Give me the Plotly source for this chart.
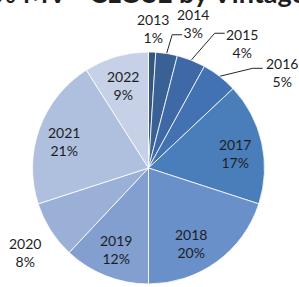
import math
import plotly.graph_objects as go

# ---- data ----
vintages = ["2013", "2014", "2015", "2016", "2017", "2018", "2019", "2020", "2021", "2022"]
shares = [1, 3, 4, 5, 17, 20, 12, 8, 21, 9]
title_text = "% MV - CLOSE by Vintage"

# ---- style ----
W, H = 299, 287
colors = ["#35567f", "#3a6196", "#3e69a6", "#4372b2", "#4a7ebb",
          "#6990c9", "#829fd0", "#9bb0d7", "#afc0df", "#c6d1e7"]
CX, CY, R = 148.5, 168.0, 116.0
# label placement: radius in px from centre, angular shift (deg) from slice middle
label_r = [140, 151, 156, 164, 88, 87, 88, 150, 88, 86]
label_shift = [0, 8.2, 15.3, 16.5, 3, 6.8, 0, -2, -2.5, -1]
# leader line end relative to label centre (None = no leader)
leader_end = [None, (-11, 11), (-17.5, -10), (-19, -4), None, None, None, None, None, None]
STUB = 10
font_family = "Lato, 'Open Sans', sans-serif"


def px(x):
    return x / W


def py(y):
    return 1 - y / H


fig = go.Figure()

fig.add_trace(go.Pie(
    labels=vintages,
    values=shares,
    sort=False,
    direction="clockwise",
    rotation=0,
    marker=dict(colors=colors, line=dict(color="white", width=0.8)),
    textinfo="none",
    hoverinfo="label+percent",
    showlegend=False,
    domain=dict(x=[px(CX - R), px(CX + R)], y=[py(CY + R), py(CY - R)]),
))

total = sum(shares)
cum = 0.0
annotations = []
for i, (v, s) in enumerate(zip(vintages, shares)):
    mid = (cum + s / 2) / total * 360.0
    cum += s
    ang = math.radians(mid + label_shift[i])
    lx = CX + label_r[i] * math.sin(ang)
    ly = CY - label_r[i] * math.cos(ang)
    annotations.append(dict(
        x=px(lx), y=py(ly), xref="paper", yref="paper",
        text=f"{v}<br>{round(s / total * 100)}%",
        showarrow=False, xanchor="center", yanchor="middle", align="center",
        font=dict(family=font_family, size=14, color="#1e1e1e"),
    ))
    if leader_end[i] is not None:
        a0 = math.radians(mid)
        ex, ey = CX + R * math.sin(a0), CY - R * math.cos(a0)
        sx, sy = lx + leader_end[i][0], ly + leader_end[i][1]
        fig.add_trace(go.Scatter(
            x=[ex, sx - STUB, sx], y=[ey, sy, sy], mode="lines",
            line=dict(color="#262626", width=1), hoverinfo="skip", showlegend=False,
        ))

annotations.append(dict(
    x=px(150), y=py(-8), xref="paper", yref="paper", text=f"<b>{title_text}</b>",
    showarrow=False, xanchor="center", yanchor="middle",
    font=dict(family=font_family, size=27, color="#1e1e1e"),
))

fig.update_layout(
    width=W, height=H,
    margin=dict(l=0, r=0, t=0, b=0),
    paper_bgcolor="white", plot_bgcolor="rgba(0,0,0,0)",
    xaxis=dict(range=[0, W], visible=False, fixedrange=True),
    yaxis=dict(range=[H, 0], visible=False, fixedrange=True),
    annotations=annotations,
)

fig.write_html("out.html", config={"displayModeBar": False},
               post_script="document.body.style.margin='0';document.body.style.overflow='hidden';")
